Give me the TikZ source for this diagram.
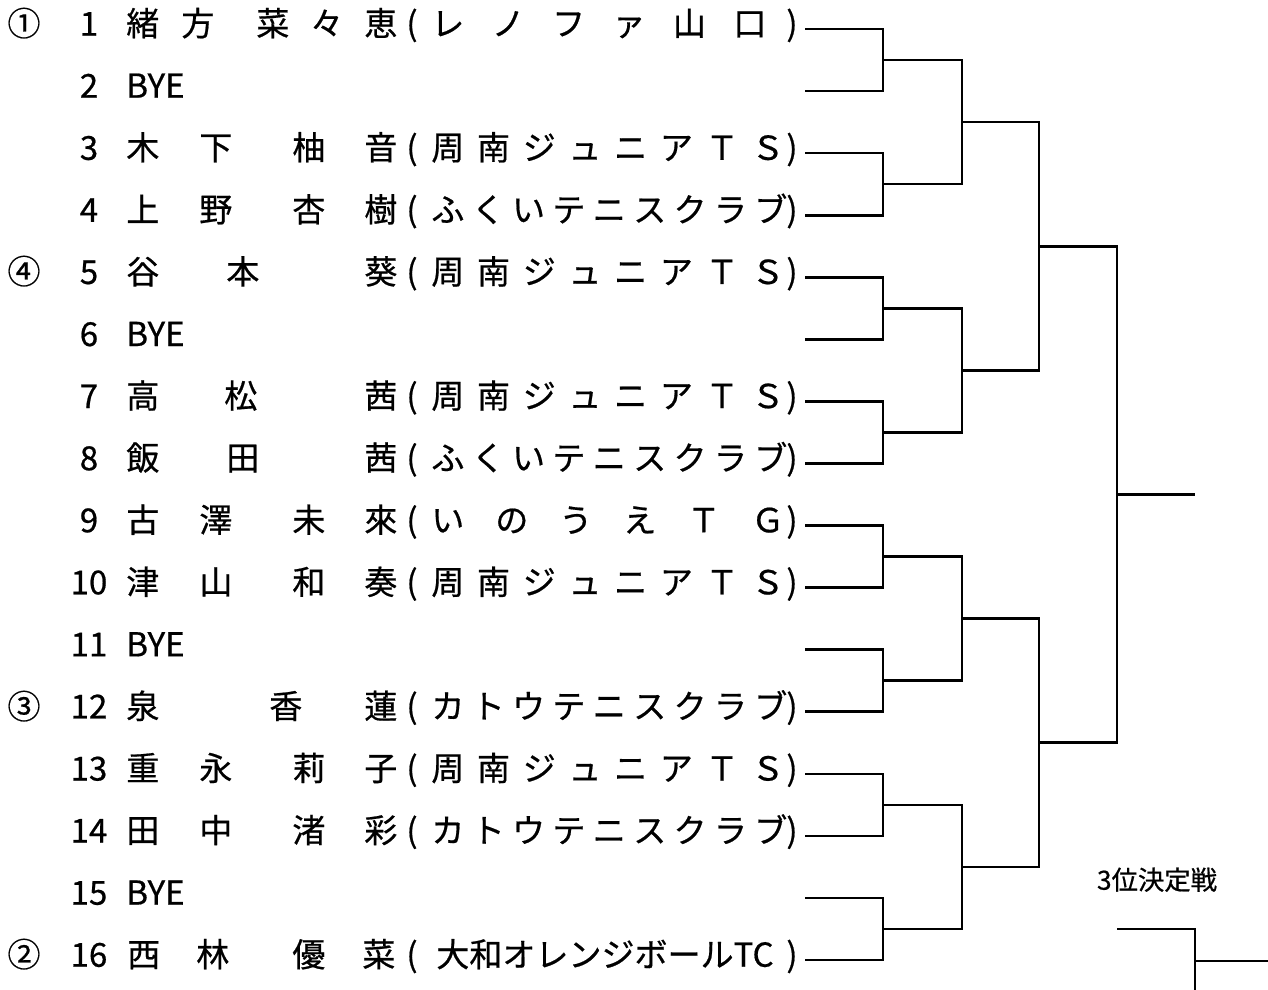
\documentclass[tikz,border=0pt]{standalone}
\usepackage{fontspec}
\setmainfont{Noto Sans CJK JP}[FakeBold=0.6]
\usetikzlibrary{calc}

\newlength{\pxu}
\setlength{\pxu}{0.02cm}
% club names are spread over a fixed width
\newcommand{\club}[2]{\makebox[#1\pxu][s]{#2}}
% one entry of the draw: row, name characters, club
\newcommand{\player}[3]{%
  \pgfmathsetmacro{\yy}{29+(#1-1)*62.07}
  \foreach \c/\x in {#2} {\node[ch] (n#1-\x) at (\x,\yy) {\c};}
  \node[txt] (lp#1) at (412,\yy) {(};
  \node[ch] (cl#1) at (431,\yy) {#3};
  \node[txt] (rp#1) at (792,\yy) {)};
}

\tikzset{
  txt/.style={inner sep=0pt, text height=.88em, text depth=.12em,
    font=\fontsize{18.8}{22}\selectfont},
  ch/.style={txt, anchor=west},
  wire/.style={line width=1.5pt},
}

\begin{document}
\begin{tikzpicture}[x=0.02cm, y=-0.02cm]
  \useasboundingbox (0,0) rectangle (1268,990);
  \fill[white] (0,0) rectangle (1268,990);

  % seeds
  \node[txt] (seed1) at (24,29) {①};
  \node[txt] (seed4) at (24,277) {④};
  \node[txt] (seed3) at (24,712) {③};
  \node[txt] (seed2) at (24,960) {②};

  % draw numbers
  \foreach \i in {1,...,16} {
    \node[txt] (num\i) at (89,{29+(\i-1)*62.07}) {\i};
  }

  \player{1}{緒/126,方/181,菜/256,々/310,恵/364}{\club{335}{レ\hfill ノ\hfill フ\hfill ァ\hfill 山\hfill 口}}
  \player{3}{木/126,下/199,柚/292,音/364}{\club{353}{周\hfill 南\hfill ジ\hfill ュ\hfill ニ\hfill ア\hfill Ｔ\hfill Ｓ}}
  \player{4}{上/126,野/199,杏/292,樹/364}{\club{356}{ふ\hfill く\hfill い\hfill テ\hfill ニ\hfill ス\hfill ク\hfill ラ\hfill ブ}}
  \player{5}{谷/126,本/226,葵/364}{\club{353}{周\hfill 南\hfill ジ\hfill ュ\hfill ニ\hfill ア\hfill Ｔ\hfill Ｓ}}
  \player{7}{高/126,松/224,茜/364}{\club{353}{周\hfill 南\hfill ジ\hfill ュ\hfill ニ\hfill ア\hfill Ｔ\hfill Ｓ}}
  \player{8}{飯/126,田/226,茜/364}{\club{356}{ふ\hfill く\hfill い\hfill テ\hfill ニ\hfill ス\hfill ク\hfill ラ\hfill ブ}}
  \player{9}{古/126,澤/199,未/292,來/364}{\club{353}{い\hfill の\hfill う\hfill え\hfill Ｔ\hfill Ｇ}}
  \player{10}{津/126,山/199,和/292,奏/364}{\club{353}{周\hfill 南\hfill ジ\hfill ュ\hfill ニ\hfill ア\hfill Ｔ\hfill Ｓ}}
  \player{12}{泉/126,香/269,蓮/364}{\club{356}{カ\hfill ト\hfill ウ\hfill テ\hfill ニ\hfill ス\hfill ク\hfill ラ\hfill ブ}}
  \player{13}{重/126,永/199,莉/292,子/364}{\club{353}{周\hfill 南\hfill ジ\hfill ュ\hfill ニ\hfill ア\hfill Ｔ\hfill Ｓ}}
  \player{14}{田/126,中/199,渚/292,彩/364}{\club{356}{カ\hfill ト\hfill ウ\hfill テ\hfill ニ\hfill ス\hfill ク\hfill ラ\hfill ブ}}
  \player{16}{西/127,林/196,優/292,菜/362}{\hspace{5\pxu}大和オレンジボールTC}

  % byes
  \foreach \i in {2,6,11,15} {
    \node[ch] (bye\i) at (126,{29+(\i-1)*62.07}) {BYE};
  }

  % bracket
  \foreach \i in {1,...,16} {
    \coordinate (p\i) at (805,{29+(\i-1)*62.07});
  }
  \foreach \k in {1,...,8} {
    \pgfmathtruncatemacro{\a}{2*\k-1}
    \pgfmathtruncatemacro{\b}{2*\k}
    \draw[wire] (p\a) -- ++(78,0) |- (p\b);
    \coordinate (q\k) at ($(p\a)!.5!(p\b)+(78,0)$);
  }
  \foreach \k in {1,...,4} {
    \pgfmathtruncatemacro{\a}{2*\k-1}
    \pgfmathtruncatemacro{\b}{2*\k}
    \draw[wire] (q\a) -- ++(79,0) |- (q\b);
    \coordinate (r\k) at ($(q\a)!.5!(q\b)+(79,0)$);
  }
  \foreach \k in {1,2} {
    \pgfmathtruncatemacro{\a}{2*\k-1}
    \pgfmathtruncatemacro{\b}{2*\k}
    \draw[wire] (r\a) -- ++(77,0) |- (r\b);
    \coordinate (s\k) at ($(r\a)!.5!(r\b)+(77,0)$);
  }
  \draw[wire] (s1) -- ++(78,0) |- (s2);
  \coordinate (fin) at ($(s1)!.5!(s2)+(78,0)$);
  \draw[wire] (fin) -- ++(78,0) coordinate (champ);

  % third place
  \node[txt, font=\fontsize{15}{18}\selectfont] (third) at (1157,883) {3位決定戦};
  \coordinate (tp1) at (1117,929);
  \coordinate (tp2) at (1117,993);
  \draw[wire] (tp1) -- ++(78,0) |- (tp2);
  \coordinate (tpm) at ($(tp1)!.5!(tp2)+(78,0)$);
  \draw[wire] (tpm) -- ++(73,0) coordinate (tpw);
\end{tikzpicture}
\end{document}
